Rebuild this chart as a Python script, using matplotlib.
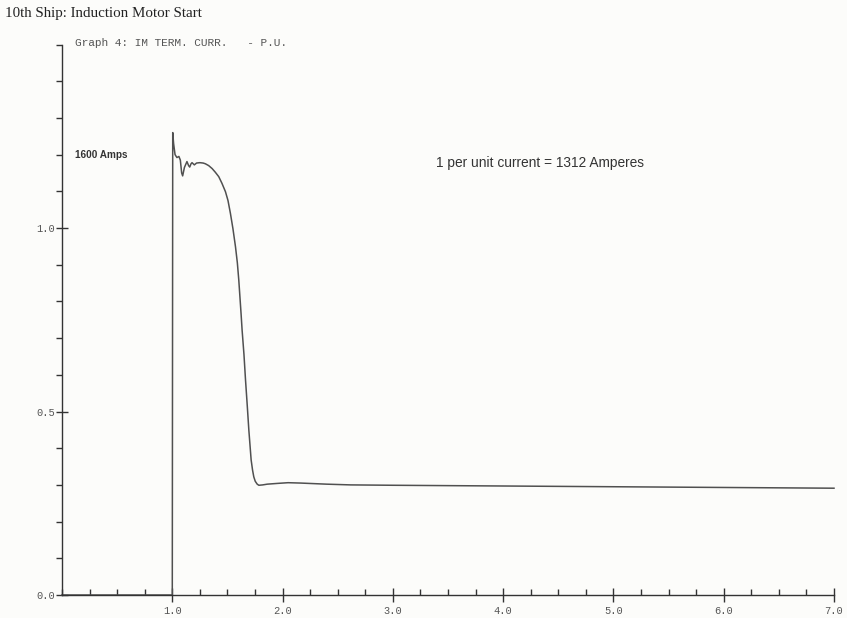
import matplotlib
matplotlib.use("Agg")
import matplotlib.pyplot as plt
from matplotlib.ticker import MultipleLocator, FixedLocator

# Data (time in s, current in p.u.)
time = [0.0, 1.0, 1.004, 1.012, 1.025, 1.042, 1.06, 1.073, 1.085, 1.094, 1.11,
        1.133, 1.148, 1.158, 1.17, 1.179, 1.2, 1.22, 1.25, 1.28, 1.30, 1.33,
        1.361, 1.39, 1.421, 1.45, 1.482, 1.505, 1.527, 1.55, 1.573, 1.59,
        1.603, 1.624, 1.633, 1.65, 1.664, 1.68, 1.694, 1.715, 1.728, 1.739,
        1.752, 1.77, 1.785, 1.82, 1.861, 1.95, 2.05, 2.164, 2.4, 2.618, 3.0,
        4.0, 5.0, 6.0, 7.0]
current = [0.0, 0.0, 1.26, 1.23, 1.20, 1.192, 1.195, 1.185, 1.15, 1.142, 1.165,
           1.181, 1.17, 1.166, 1.175, 1.178, 1.172, 1.177, 1.178, 1.177, 1.175,
           1.17, 1.162, 1.152, 1.14, 1.122, 1.099, 1.075, 1.04, 0.998, 0.949,
           0.905, 0.858, 0.765, 0.722, 0.655, 0.586, 0.515, 0.45, 0.368, 0.34,
           0.322, 0.31, 0.302, 0.299, 0.300, 0.302, 0.304, 0.306, 0.305, 0.302,
           0.300, 0.299, 0.297, 0.295, 0.293, 0.291]
x_ticks = [1.0, 2.0, 3.0, 4.0, 5.0, 6.0, 7.0]
x_tick_labels = ["1.0", "2.0", "3.0", "4.0", "5.0", "6.0", "7.0"]
y_ticks = [0.0, 0.5, 1.0]
y_tick_labels = ["0.0", "0.5", "1.0"]

W, H = 847, 618
fig = plt.figure(figsize=(W / 100, H / 100), dpi=100, facecolor="#fcfcfa")
ax = fig.add_axes([62 / W, (H - 595) / H, (834 - 62) / W, (595 - 44.5) / H])
ax.set_facecolor("#fcfcfa")

ax.plot(time, current, color="#505050", lw=1.1, clip_on=False,
        solid_joinstyle="round")
ax.set_xlim(0, 7.0)
ax.set_ylim(0, 1.5)

for s in ["top", "right"]:
    ax.spines[s].set_visible(False)
for s in ["left", "bottom"]:
    ax.spines[s].set_color("#333333")
    ax.spines[s].set_linewidth(1.0)

ax.xaxis.set_major_locator(FixedLocator(x_ticks))
ax.set_xticklabels(x_tick_labels)
ax.xaxis.set_minor_locator(MultipleLocator(0.25))
ax.yaxis.set_major_locator(FixedLocator(y_ticks))
ax.set_yticklabels(y_tick_labels)
ax.yaxis.set_minor_locator(MultipleLocator(0.1))

mono = "Liberation Mono"
ax.tick_params(axis="x", which="major", direction="inout", length=10, width=1,
               color="#333333", labelsize=7.5, labelcolor="#555555", pad=3)
ax.tick_params(axis="x", which="minor", direction="in", length=4, width=1, color="#333333")
ax.tick_params(axis="y", which="major", direction="inout", length=8, width=1,
               color="#333333", labelsize=7.5, labelcolor="#555555", pad=1)
ax.tick_params(axis="y", which="minor", direction="out", length=4, width=1, color="#333333")
for lab in ax.get_xticklabels() + ax.get_yticklabels():
    lab.set_family(mono)

fig.text(5 / W, 1 - 13 / H, "10th Ship: Induction Motor Start", family="Liberation Serif",
         fontsize=10.8, color="#222222", va="center", ha="left")
fig.text(75 / W, 1 - 43 / H, "Graph 4: IM TERM. CURR.   - P.U.", family=mono,
         fontsize=8.0, color="#555555", va="center", ha="left")
fig.text(75 / W, 1 - 155 / H, "1600 Amps", family="Liberation Sans",
         fontsize=7.2, color="#333333", va="center", ha="left", weight="bold")
fig.text(436 / W, 1 - 163 / H, "1 per unit current = 1312 Amperes", family="Liberation Sans",
         fontsize=9.9, color="#333333", va="center", ha="left")

fig.savefig("out.png", dpi=100, facecolor=fig.get_facecolor())
